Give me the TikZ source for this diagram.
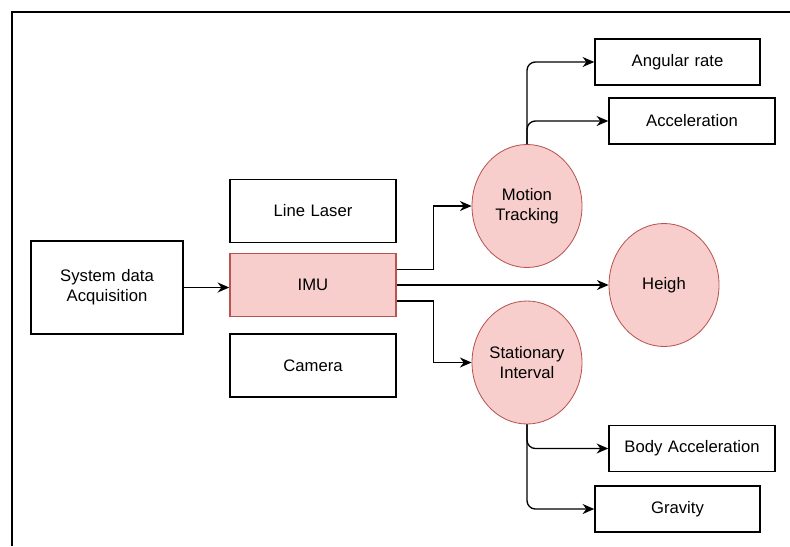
\documentclass[tikz,border=0pt]{standalone}
\usepackage{fontspec}
\setmainfont{Liberation Sans}
\usepackage{tikz}
\usetikzlibrary{positioning,arrows.meta,shapes.geometric}
\definecolor{pinkfill}{HTML}{F8CECC}
\definecolor{pinkdraw}{HTML}{B85450}

\begin{document}
\begin{tikzpicture}[
  x=0.6pt,y=-0.6pt,
  every node/.style={scale=1.0},
  boxes/.style={rectangle,draw,line width=0.9pt,text width=#1,align=center,minimum height=27.6pt,inner sep=0pt},
  tallbox/.style={boxes=#1,minimum height=37.8pt},
  pinkbox/.style={tallbox=#1,fill=pinkfill,draw=pinkdraw},
  blob/.style={ellipse,draw=pinkdraw,line width=0.5pt,fill=pinkfill,minimum width=66pt,minimum height=73.8pt,align=center,inner sep=0pt},
  link/.style={line width=0.8pt,-{Stealth[length=7pt,width=6pt]}},
  branch/.style={link,rounded corners=5pt},
]
\useasboundingbox (0,0) rectangle (790,546);
\draw[line width=1.2pt] (790,12) -- (12,12) -- (12,546);

\node (sys) [tallbox=91.2pt,minimum height=55.8pt] at (107,287.5) {System data\\Acquisition};
\node (imu) [pinkbox=99.6pt] at (313,285) {IMU};
\node (laser) [tallbox=99.6pt] at (313,211) {Line Laser};
\node (camera) [tallbox=99.6pt] at (313,365.5) {Camera};

\node (motion) [blob] at (527,206) {Motion\\Tracking};
\node (heigh) [blob] at (664,285) {Heigh};
\node (stat) [blob] at (527,362.5) {Stationary\\Interval};

\node (angular) [boxes=99pt] at (677.5,62) {Angular rate};
\node (accel) [boxes=99.6pt] at (692,121) {Acceleration};
\node (body) [boxes=99.6pt] at (692,448.5) {Body Acceleration};
\node (gravity) [boxes=99pt] at (677.5,509) {Gravity};

\draw[link] (sys.east) -- (sys.east -| imu.west);
\draw[link] ([yshift=9.3pt]imu.east) -- ++(37,0) |- (motion.west);
\draw[link] (imu.east) -- (heigh.west);
\draw[link] ([yshift=-9.6pt]imu.east) -- ++(37,0) |- (stat.west);

\draw[branch] (motion.north) |- (angular.west);
\draw[branch] (motion.north) |- (accel.west);
\draw[branch] (stat.south) |- (body.west);
\draw[branch] (stat.south) |- (gravity.west);
\end{tikzpicture}
\end{document}
